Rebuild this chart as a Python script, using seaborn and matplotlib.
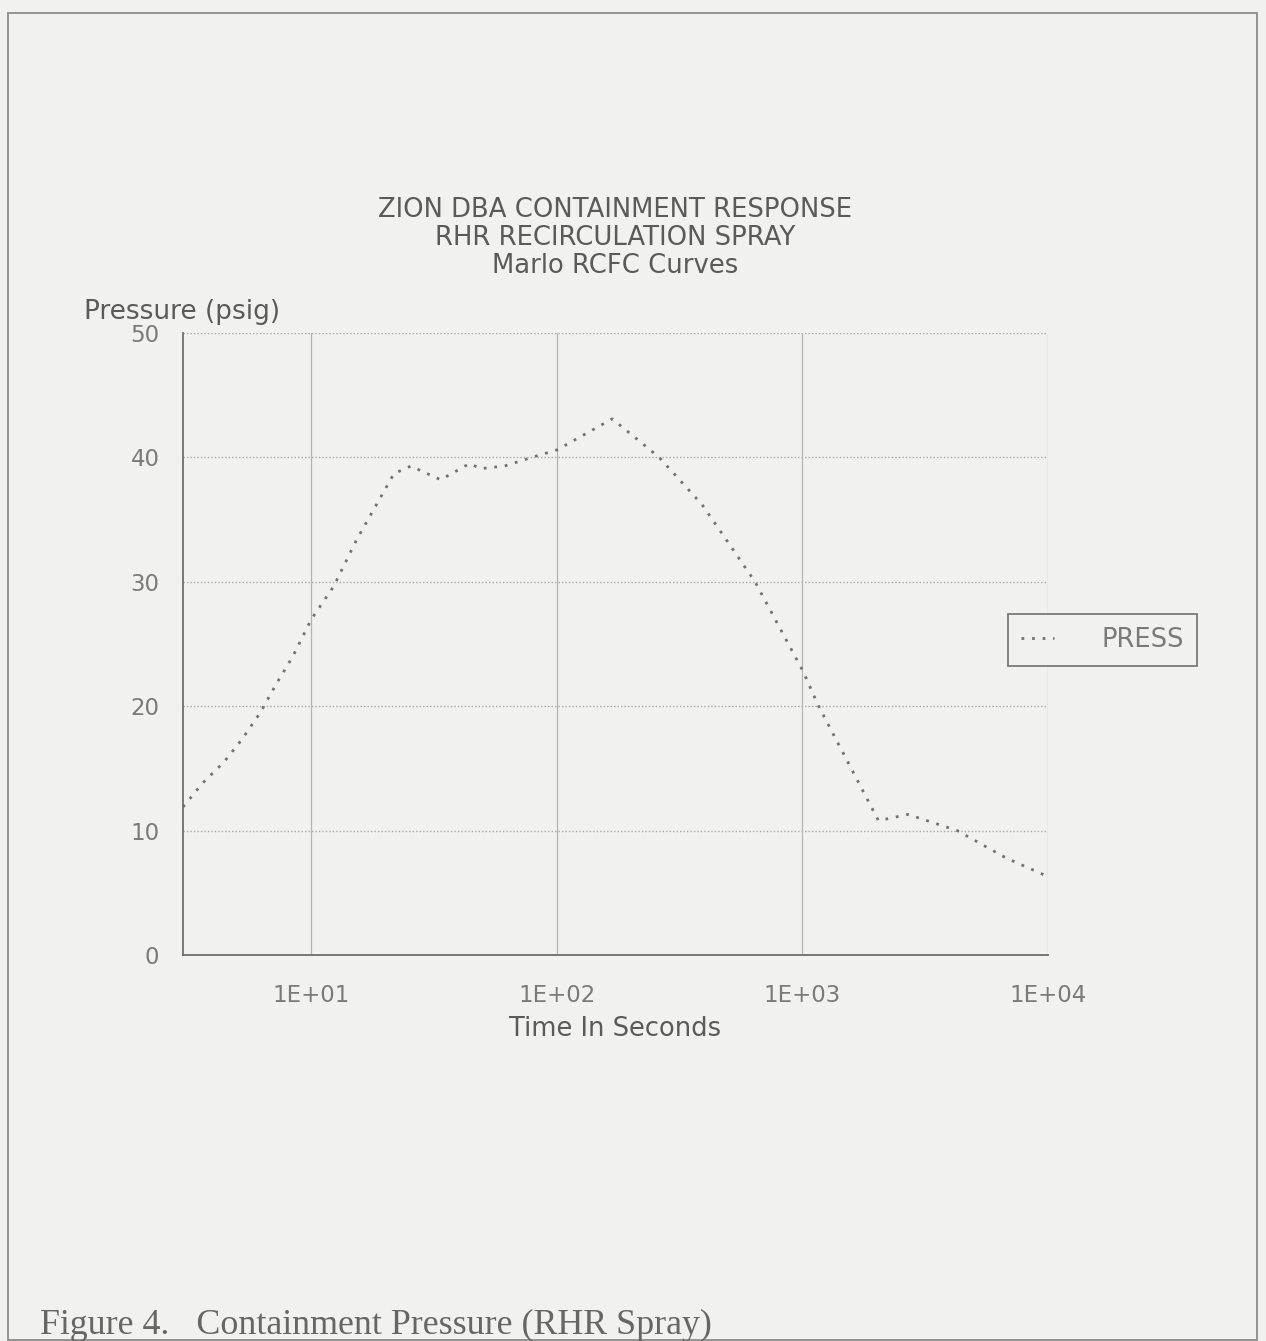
import matplotlib
matplotlib.use("Agg")
import matplotlib.pyplot as plt
from matplotlib.patches import Rectangle
from matplotlib.ticker import FixedLocator, FuncFormatter, NullLocator
import numpy as np
import pandas as pd
import seaborn as sns

# Containment pressure history (RHR recirculation spray case)
time_s = [3.0, 3.6, 4.4, 5.2, 6.2, 7.2, 8.4, 10.0, 12.3, 15.3, 21.7, 25.4,
          33.6, 44.0, 49.0, 61.0, 79.0, 100.0, 168.0, 261.0, 390.0, 485.0,
          641.0, 1006.0, 1157.0, 2040.0, 2690.0, 4270.0, 6750.0, 10000.0]
pressure_psig = [11.9, 13.8, 15.5, 17.3, 19.5, 21.8, 24.0, 27.0, 29.6, 33.4,
                 38.7, 39.3, 38.2, 39.5, 39.1, 39.3, 40.0, 40.6, 43.1, 40.0,
                 36.2, 33.5, 30.0, 22.8, 20.1, 10.8, 11.3, 10.0, 7.8, 6.3]

x_ticks = [1e1, 1e2, 1e3, 1e4]
x_tick_labels = ["1E+01", "1E+02", "1E+03", "1E+04"]
y_ticks = [0, 10, 20, 30, 40, 50]

title_lines = ["ZION DBA CONTAINMENT RESPONSE",
               "RHR RECIRCULATION SPRAY",
               "Marlo RCFC Curves"]
caption = "Figure 4.   Containment Pressure (RHR Spray)"

paper = "#f1f1ef"
ink = "#5a5a5a"
light_ink = "#7a7a7a"
grid_col = "#a8a8a8"

sns.set_style("white")
plt.rcParams["font.family"] = ["DejaVu Sans"]

df = pd.DataFrame({"Time": time_s, "PRESS": pressure_psig})

fig = plt.figure(figsize=(12.66, 13.41), dpi=100, facecolor=paper)
ax = fig.add_axes([183 / 1266, 1 - 955 / 1341, 865 / 1266, 622 / 1341])
ax.set_facecolor(paper)

sns.lineplot(data=df, x="Time", y="PRESS", ax=ax, color="#727272",
             linewidth=2.0, label="PRESS")
ax.lines[0].set_dashes([1, 2.8])

ax.set_xscale("log")
ax.set_xlim(3, 1e4)
ax.set_ylim(0, 50)

ax.xaxis.set_major_locator(FixedLocator(x_ticks))
ax.xaxis.set_minor_locator(NullLocator())
ax.xaxis.set_major_formatter(FuncFormatter(lambda v, p: x_tick_labels[x_ticks.index(v)] if v in x_ticks else ""))
ax.yaxis.set_major_locator(FixedLocator(y_ticks))

# grid: dotted horizontals, thin solid verticals
for yv in y_ticks[1:]:
    ax.axhline(yv, color=grid_col, linestyle=(0, (1, 1.5)), linewidth=1.0, zorder=0)
for xv in x_ticks:
    ax.axvline(xv, color="#b4b4b4", linestyle="-", linewidth=0.9, zorder=0)

for side in ["top", "right"]:
    ax.spines[side].set_visible(False)
for side in ["left", "bottom"]:
    ax.spines[side].set_color("#6e6e6e")
    ax.spines[side].set_linewidth(1.3)

ax.tick_params(axis="both", which="major", direction="out", length=9,
               width=1.2, color="#6e6e6e", labelcolor=light_ink, labelsize=16.5)
ax.tick_params(axis="x", pad=12)
ax.tick_params(axis="y", pad=8)

ax.set_xlabel("Time In Seconds", fontsize=18.5, color=ink, labelpad=6)
ax.set_ylabel("Pressure (psig)", fontsize=19, color=ink, rotation=0,
              ha="left", va="center")
ax.yaxis.set_label_coords(-0.115, 1.033)

ax.set_title("\n".join(title_lines), fontsize=18.6, color=ink,
             linespacing=1.1, pad=43)

leg = ax.legend(loc="center left", bbox_to_anchor=(0.954, 0.506),
                frameon=True, fancybox=False, fontsize=18.5,
                handlelength=1.3, handletextpad=1.85, borderpad=0.5,
                borderaxespad=0)
leg.get_frame().set_edgecolor("#7a7a7a")
leg.get_frame().set_linewidth(1.3)
leg.get_frame().set_facecolor(paper)
leg.get_frame().set_alpha(1)
for t in leg.get_texts():
    t.set_color(light_ink)

fig.text(40 / 1266, 1 - 1325 / 1341, caption, fontsize=25.8,
         family="Liberation Serif", color="#666666", ha="left", va="center")

# page frame
fig.patches.append(Rectangle((8 / 1266, 0.001), 1249 / 1266, 1 - 13 / 1341 - 0.001,
                             transform=fig.transFigure, fill=False,
                             edgecolor="#8c8c8c", linewidth=1.3))

fig.savefig("out.png", dpi=100, facecolor=paper)
